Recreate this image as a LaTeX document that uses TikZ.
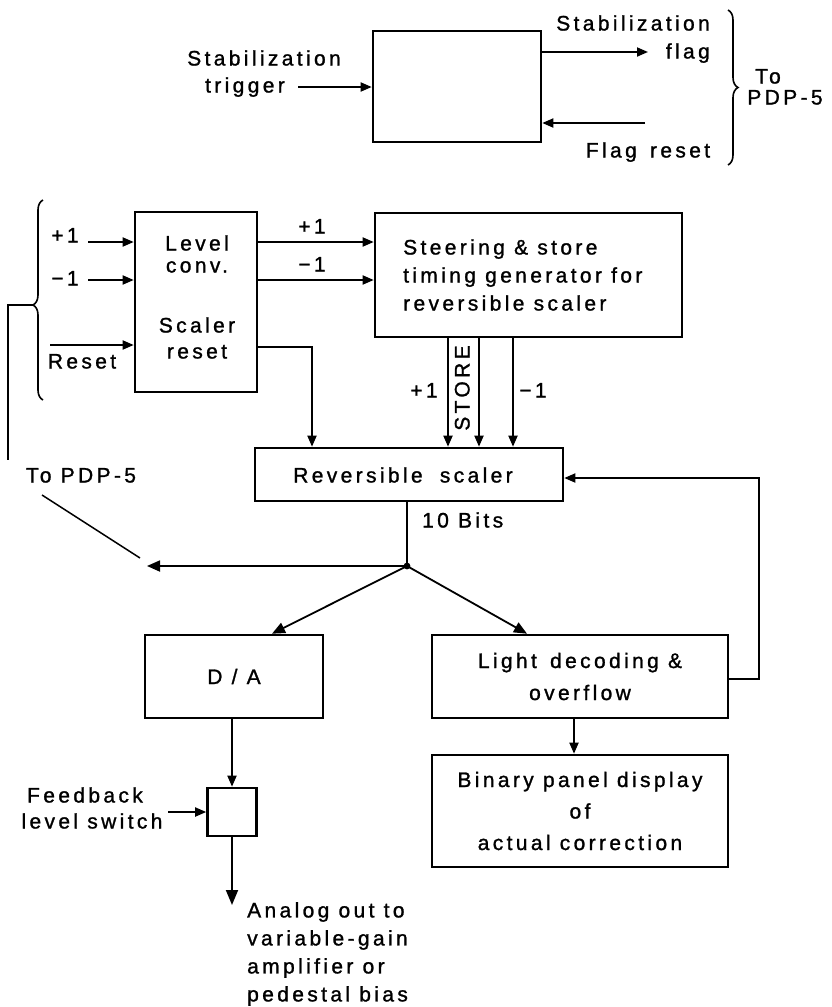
\documentclass[tikz,border=0pt]{standalone}
\usepackage{fontspec}
\setmainfont{Liberation Sans}[LetterSpace=16,FakeBold=1.2]
\usetikzlibrary{arrows.meta,decorations.pathreplacing}
\begin{document}
\begin{tikzpicture}[x=1pt,y=-1pt,
  every node/.style={inner sep=0pt,font=\fontsize{21}{28}\selectfont},
  box/.style={draw,line width=2.6pt,inner sep=0pt},
  lbl/.style={text height=15pt,text depth=4pt},
  wire/.style={line width=1.8pt},
  arr/.style={wire,-{Triangle[length=11pt,width=9pt]}},
  medarr/.style={wire,-{Triangle[length=13pt,width=11pt]}},
  bigarr/.style={wire,-{Triangle[length=15pt,width=12pt]}},
  brc/.style={line width=1.6pt,decorate}
]
\useasboundingbox (0,0) rectangle (832,1007);

% ---------- top block ----------
\node[box,minimum width=168pt,minimum height=111pt] (stab) at (457,86.5) {};
\node[lbl] (sttrig1) at (264,60) {Stabilization};
\node[lbl] (sttrig2) at (245,87) {trigger};
\coordinate (trigin) at (298,87);
\draw[arr] (trigin) -- (trigin -| stab.west);

\coordinate (flagout) at (648,52);
\draw[arr] (flagout -| stab.east) -- (flagout);
\node[lbl,anchor=east] (stflag1) at (710,25) {Stabilization};
\node[lbl,anchor=east] (stflag2) at (710,53) {flag};

\coordinate (frin) at (645,123);
\draw[arr] (frin) -- (frin -| stab.east);
\node[lbl] (freset) at (648,152) {Flag\hspace{4pt} reset};

\coordinate (brA) at (728,10);
\coordinate (brB) at (728,165);
\draw[brc,decoration={brace,amplitude=10pt}] (brA) -- (brB);
\node[lbl] (to1) at (768,78) {To};
\node[lbl] (to2) at (785,99) {PDP-5};

% ---------- level converter ----------
\node[box,minimum width=122pt,minimum height=180pt] (lvl) at (196,302) {};
\node[lbl] (lvt1) at (197,245) {Level};
\node[lbl] (lvt2) at (197,267) {conv.};
\node[lbl] (lvt3) at (197,327) {Scaler};
\node[lbl] (lvt4) at (197,353) {reset};

\node[lbl] (inp1) at (65,237) {+1};
\coordinate (inp1e) at (88,242);
\draw[arr] (inp1e) -- (inp1e -| lvl.west);
\node[lbl] (inm1) at (65,280) {−1};
\coordinate (inm1e) at (88,280);
\draw[arr] (inm1e) -- (inm1e -| lvl.west);
\coordinate (rin) at (50,345);
\draw[arr] (rin) -- (rin -| lvl.west);
\node[lbl] (rtxt) at (82,363) {Reset};

\coordinate (brC) at (43,400);
\coordinate (brD) at (43,200);
\draw[brc,decoration={brace,amplitude=10pt,aspect=0.475}] (brC) -- (brD);
\coordinate (brtip) at (33,305);
\coordinate (lcorner) at (8,305);
\coordinate (lend) at (8,460);
\draw[wire] (brtip) -- (lcorner) -- (lend);

% ---------- steering ----------
\node[box,minimum width=307pt,minimum height=124pt] (steer) at (528.5,275) {};
\node[anchor=west,align=left] (steertxt) at (403,275)
  {Steering \& store\\timing generator for\\reversible scaler};

\draw[arr] (lvl.east |- 0,242) -- (steer.west |- 0,242);
\node[lbl] (o1) at (312,228) {+1};
\draw[arr] (lvl.east |- 0,280) -- (steer.west |- 0,280);
\node[lbl] (o2) at (312,266) {−1};

% ---------- reversible scaler ----------
\node[box,minimum width=308pt,minimum height=53pt] (scal) at (409,474.5) {};
\node[lbl] (scaltxt) at (403,477) {Reversible\hspace{8pt} scaler};

\draw[arr] (steer.south -| 448,0) -- (scal.north -| 448,0);
\draw[arr] (steer.south -| 479,0) -- (scal.north -| 479,0);
\draw[arr] (steer.south -| 513,0) -- (scal.north -| 513,0);
\node[lbl] (sp1) at (424,392) {+1};
\node[lbl,rotate=90] (store) at (464,388) {STORE};
\node[lbl] (sm1) at (533,392) {−1};

\draw[arr] (lvl.east |- 0,347) -| (scal.north -| 312,0);

% ---------- output distribution ----------
\coordinate (j) at (407,566);
\draw[wire] (scal.south -| j) -- (j);
\fill (j) circle (3.4pt);
\node[lbl,anchor=west] (bits) at (422,522) {10 Bits};
\coordinate (pdp) at (147,566);
\draw[medarr] (j) -- (pdp);
\node[lbl] (topdp) at (81,477) {To PDP-5};
\coordinate (leadA) at (42,495);
\coordinate (leadB) at (140,558);
\draw[line width=1.5pt] (leadA) -- (leadB);

\node[box,minimum width=178pt,minimum height=83pt] (da) at (234,676.5) {D / A};
\node[box,minimum width=296pt,minimum height=83pt,align=center,
      font=\fontsize{21}{32}\selectfont] (light) at (580,676.5)
  {Light\hspace{4pt} decoding \&\\overflow};
\draw[medarr] (j) -- (da.north -| 272,0);
\draw[medarr] (j) -- (light.north -| 527,0);

\draw[arr] (light.east |- 0,679) -- (759,679) -- (759,478) -- (scal.east |- 0,478);

\node[box,minimum width=296pt,minimum height=112pt,align=center,
      font=\fontsize{21}{31.5}\selectfont] (bin) at (580,811)
  {Binary panel display\\of\\actual correction};
\draw[arr] (light.south -| 574,0) -- (bin.north -| 574,0);

% ---------- feedback switch ----------
\node[box,minimum width=49pt,minimum height=48pt] (sw) at (232,812) {};
\draw[arr] (sw.north |- da.south) -- (sw.north);
\node[lbl] (fb1) at (85,797) {Feedback};
\node[lbl] (fb2) at (92,823) {level switch};
\coordinate (fbin) at (168,812);
\draw[arr] (fbin) -- (sw.west);
\coordinate (aout) at (232,905);
\draw[bigarr] (sw.south) -- (aout);
\node[anchor=north west,align=left] (aotxt) at (247,902)
  {Analog out to\\variable-gain\\amplifier or\\pedestal bias};
\end{tikzpicture}
\end{document}
